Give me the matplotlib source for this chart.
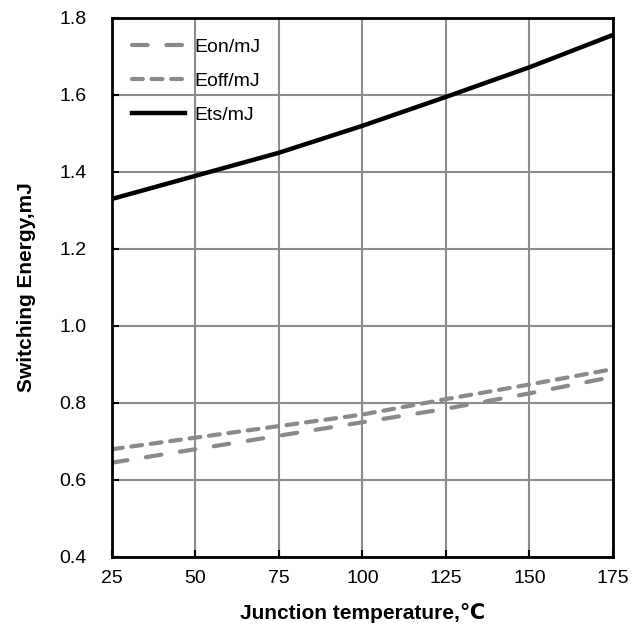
import matplotlib
matplotlib.use("Agg")
import matplotlib.pyplot as plt

plt.rcParams['font.family'] = ['Liberation Sans', 'DejaVu Sans']

# junction temperature, degC
tj = [25, 50, 75, 100, 125, 150, 175]
# switching energies, mJ
eon = [0.645, 0.680, 0.715, 0.750, 0.785, 0.825, 0.868]
eoff = [0.680, 0.710, 0.740, 0.770, 0.810, 0.848, 0.888]
ets = [1.330, 1.390, 1.450, 1.520, 1.595, 1.672, 1.756]

xticks = [25, 50, 75, 100, 125, 150, 175]
yticks = [0.4, 0.6, 0.8, 1.0, 1.2, 1.4, 1.6, 1.8]

fig = plt.figure(figsize=(6.41, 6.31), dpi=100)
ax = fig.add_axes([0.1747, 0.1173, 0.7816, 0.8542])

gray = '#8a8a8a'
ax.plot(tj, eon, color=gray, lw=3, dashes=(3.75, 4.5), dash_capstyle='round', label='Eon/mJ')
ax.plot(tj, eoff, color=gray, lw=3, dashes=(2.6, 2.1), dash_capstyle='round', label='Eoff/mJ')
ax.plot(tj, ets, color='black', lw=3.2, label='Ets/mJ')

ax.set_xlim(25, 175)
ax.set_ylim(0.4, 1.8)
ax.set_xticks(xticks)
ax.set_yticks(yticks)
ax.set_yticklabels([f'{v:.1f}' for v in yticks])
ax.grid(True, color='#8c8c8c', lw=1.5)
ax.set_axisbelow(True)
ax.tick_params(direction='in', length=5, width=1.5, labelsize=14, colors='black')
ax.tick_params(axis='x', pad=9.5)
ax.tick_params(axis='y', pad=18.5)
for s in ax.spines.values():
    s.set_linewidth(2)
    s.set_color('black')

ax.set_xlabel('Junction temperature,℃', fontsize=15, fontweight='bold', labelpad=11.5)
ax.set_ylabel('Switching Energy,mJ', fontsize=15, fontweight='bold', labelpad=16.5)

leg = ax.legend(loc='upper left', frameon=False, fontsize=14, handlelength=2.73,
                handletextpad=0.5, borderaxespad=0, borderpad=1.03, labelspacing=0.84)

fig.savefig('out.png', dpi=100)
